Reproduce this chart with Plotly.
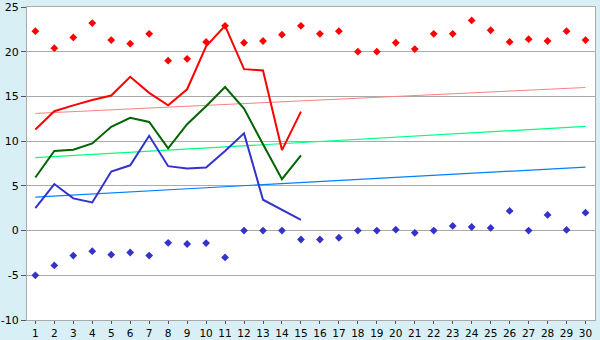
import plotly.graph_objects as go

days = list(range(1, 31))

max_pts = [22.3, 20.4, 21.6, 23.2, 21.3, 20.9, 22.0, 19.0, 19.2, 21.1,
           22.9, 21.0, 21.2, 21.9, 22.9, 22.0, 22.3, 20.0, 20.0, 21.0,
           20.3, 22.0, 22.0, 23.5, 22.4, 21.1, 21.4, 21.2, 22.3, 21.3]
min_pts = [-5.0, -3.9, -2.8, -2.3, -2.7, -2.45, -2.8, -1.37, -1.5, -1.4,
           -3.0, 0.0, 0.0, 0.0, -1.0, -1.0, -0.8, 0.0, 0.0, 0.1,
           -0.25, 0.0, 0.52, 0.4, 0.3, 2.2, 0.0, 1.75, 0.07, 2.0]

line_days = list(range(1, 16))
red_line = [11.3, 13.35, 14.0, 14.6, 15.1, 17.2, 15.4, 14.0, 15.8, 20.6,
            22.9, 18.05, 17.9, 9.0, 13.3]
green_line = [5.93, 8.9, 9.05, 9.75, 11.6, 12.6, 12.15, 9.2, 11.9, 13.9,
              16.05, 13.65, 9.65, 5.75, 8.4]
blue_line = [2.5, 5.2, 3.6, 3.15, 6.6, 7.3, 10.6, 7.2, 6.93, 7.05,
             8.9, 10.87, 3.45, 2.35, 1.2]

trend_days = [1, 30]
trend_red = [13.1, 16.0]
trend_green = [8.15, 11.65]
trend_blue = [3.75, 7.1]

y_ticks = [-10, -5, 0, 5, 10, 15, 20, 25]

fig = go.Figure()

fig.add_trace(go.Scatter(x=trend_days, y=trend_red, mode="lines",
                         line=dict(color="#ff8080", width=1)))
fig.add_trace(go.Scatter(x=trend_days, y=trend_green, mode="lines",
                         line=dict(color="#00ff80", width=1.2)))
fig.add_trace(go.Scatter(x=trend_days, y=trend_blue, mode="lines",
                         line=dict(color="#0080ff", width=1.2)))

fig.add_trace(go.Scatter(x=line_days, y=red_line, mode="lines",
                         line=dict(color="#ff0000", width=2)))
fig.add_trace(go.Scatter(x=line_days, y=green_line, mode="lines",
                         line=dict(color="#006400", width=2)))
fig.add_trace(go.Scatter(x=line_days, y=blue_line, mode="lines",
                         line=dict(color="#3333cc", width=2)))

fig.add_trace(go.Scatter(x=days, y=max_pts, mode="markers",
                         marker=dict(symbol="diamond", size=6, color="#ff0000")))
fig.add_trace(go.Scatter(x=days, y=min_pts, mode="markers",
                         marker=dict(symbol="diamond", size=6, color="#3333cc")))

fig.update_layout(
    width=600, height=340,
    margin=dict(l=27, r=5, t=7, b=20),
    paper_bgcolor="#d9eff6",
    plot_bgcolor="#ffffff",
    showlegend=False,
    font=dict(family="DejaVu Sans", size=11, color="#000000"),
)

fig.update_xaxes(
    range=[0.56, 30.5], automargin=False,
    tickmode="array", tickvals=days, ticktext=[str(d) for d in days],
    showgrid=False, zeroline=False,
    showline=True, linecolor="#aaaaaa", linewidth=1, mirror=True,
    ticks="outside", ticklen=3, tickcolor="#555555",
    tickfont=dict(size=10.5),
)
fig.update_yaxes(
    range=[-10, 25], automargin=False,
    tickmode="array", tickvals=y_ticks, ticktext=[str(v) for v in y_ticks],
    showgrid=True, gridcolor="#aaaaaa", gridwidth=1, zeroline=False,
    showline=True, linecolor="#aaaaaa", linewidth=1, mirror=True,
    ticks="outside", ticklen=5, tickcolor="#555555",
    tickfont=dict(size=11),
    ticklabeloverflow="allow",
)

fig.write_html("out.html")
